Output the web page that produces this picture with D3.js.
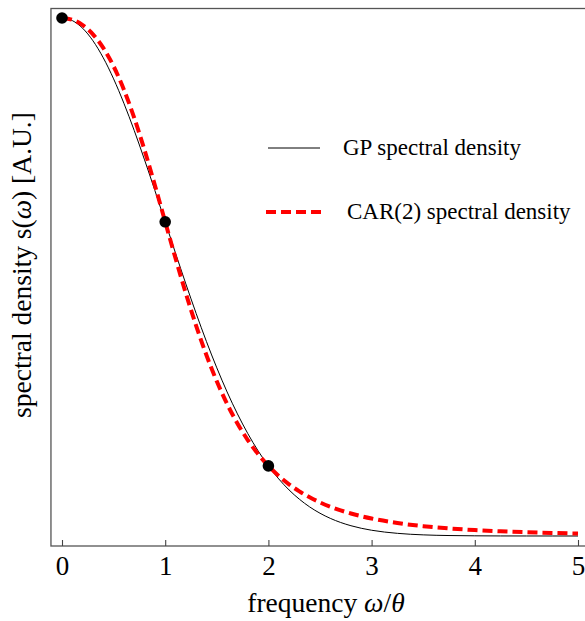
<!DOCTYPE html>
<html>
<head>
<meta charset="utf-8">
<script src="https://cdn.jsdelivr.net/npm/d3@7"></script>
<style>
  html, body { margin: 0; padding: 0; background: #fff; }
  svg { display: block; }
  text { font-family: "Liberation Serif", "DejaVu Serif", serif; fill: #000; }
</style>
</head>
<body>
<svg id="chart" width="585" height="621"></svg>
<script>
// frequency values (ω/θ)
const freq = [0, 0.1, 0.2, 0.3, 0.4, 0.5, 0.6, 0.7, 0.8, 0.9, 1.0, 1.1, 1.2, 1.3, 1.4, 1.5, 1.6, 1.7, 1.8, 1.9, 2.0,
              2.1, 2.2, 2.3, 2.4, 2.5, 2.6, 2.7, 2.8, 2.9, 3.0, 3.25, 3.5, 3.75, 4.0, 4.25, 4.5, 4.75, 5.0];
// GP spectral density
const gpDensity = [1, 0.99501, 0.98020, 0.95600, 0.92312, 0.88250, 0.83527, 0.78270, 0.72615, 0.66698, 0.60653,
                   0.54607, 0.48675, 0.42956, 0.37531, 0.32465, 0.27804, 0.23575, 0.19790, 0.16448, 0.13534,
                   0.11025, 0.08892, 0.07101, 0.05613, 0.04394, 0.03405, 0.02612, 0.01984, 0.01492, 0.01111,
                   0.00513, 0.00219, 0.00088, 0.00034, 0.00012, 0.00004, 0.00001, 0.0];
// CAR(2) spectral density
const carDensity = [1, 0.99665, 0.98638, 0.96853, 0.94224, 0.90671, 0.86156, 0.80719, 0.74497, 0.67714, 0.60653,
                    0.53611, 0.46850, 0.40567, 0.34887, 0.29861, 0.25488, 0.21731, 0.18530, 0.15820, 0.13534,
                    0.11607, 0.09984, 0.08615, 0.07460, 0.06481, 0.05651, 0.04944, 0.04340, 0.03823, 0.03378,
                    0.02513, 0.01904, 0.01466, 0.01146, 0.00908, 0.00728, 0.00590, 0.00483];
// matching points
const matchFreq = [0, 1, 2];
const matchDensity = [1, 0.60653, 0.13534];
// x tick labels
const xTicks = [0, 1, 2, 3, 4, 5];
const legendLabels = ["GP spectral density", "CAR(2) spectral density"];

const svg = d3.select("#chart");
const x = d3.scaleLinear().domain([0, 5]).range([62, 578]);
const y = d3.scaleLinear().domain([0, 1]).range([536, 18]);

const frameL = x(-0.107), frameR = 590, frameT = 8.5, frameB = 546;

// frame
svg.append("rect")
  .attr("x", frameL).attr("y", frameT)
  .attr("width", frameR - frameL).attr("height", frameB - frameT)
  .attr("fill", "none").attr("stroke", "#555").attr("stroke-width", 1.3);

// x axis ticks (inward)
const xAxis = d3.axisBottom(x).tickValues(xTicks).tickSize(-6).tickPadding(10)
  .tickFormat(d3.format("d"));
const gx = svg.append("g").attr("transform", `translate(0,${frameB})`).call(xAxis);
gx.select(".domain").remove();
gx.selectAll(".tick line").attr("stroke", "#444").attr("stroke-width", 1.1);
gx.selectAll(".tick text")
  .attr("font-family", '"Liberation Serif", serif')
  .attr("font-size", 27).attr("fill", "#000");

// curves
const line = d3.line().x((d, i) => x(freq[i])).curve(d3.curveMonotoneX);
svg.append("path")
  .datum(gpDensity)
  .attr("d", line.y(d => y(d)))
  .attr("fill", "none").attr("stroke", "#000").attr("stroke-width", 1);
svg.append("path")
  .datum(carDensity)
  .attr("d", line.y(d => y(d)))
  .attr("fill", "none").attr("stroke", "#ff0000").attr("stroke-width", 4)
  .attr("stroke-dasharray", "10,5");

// matching points
svg.selectAll("circle.pt").data(matchFreq).enter().append("circle")
  .attr("class", "pt")
  .attr("cx", d => x(d))
  .attr("cy", (d, i) => y(matchDensity[i]))
  .attr("r", 5.8).attr("fill", "#000");

// legend
const lg = svg.append("g");
lg.append("line").attr("x1", 268).attr("x2", 320).attr("y1", 148).attr("y2", 148)
  .attr("stroke", "#000").attr("stroke-width", 1);
lg.append("text").attr("x", 343).attr("y", 155).attr("font-size", 23).text(legendLabels[0]);
lg.append("line").attr("x1", 266).attr("x2", 322).attr("y1", 212).attr("y2", 212)
  .attr("stroke", "#ff0000").attr("stroke-width", 4).attr("stroke-dasharray", "10,5");
lg.append("text").attr("x", 347).attr("y", 219).attr("font-size", 23).text(legendLabels[1]);

// axis titles
const xt = svg.append("text").attr("x", 326).attr("y", 612).attr("text-anchor", "middle").attr("font-size", 27.5);
xt.append("tspan").text("frequency ");
xt.append("tspan").attr("font-style", "italic").text("ω");
xt.append("tspan").text("/");
xt.append("tspan").attr("font-style", "italic").text("θ");

const yt = svg.append("text").attr("transform", "translate(31,265) rotate(-90)")
  .attr("text-anchor", "middle").attr("font-size", 27.5);
yt.append("tspan").text("spectral density s(");
yt.append("tspan").attr("font-style", "italic").text("ω");
yt.append("tspan").text(") [A.U.]");
</script>
</body>
</html>
